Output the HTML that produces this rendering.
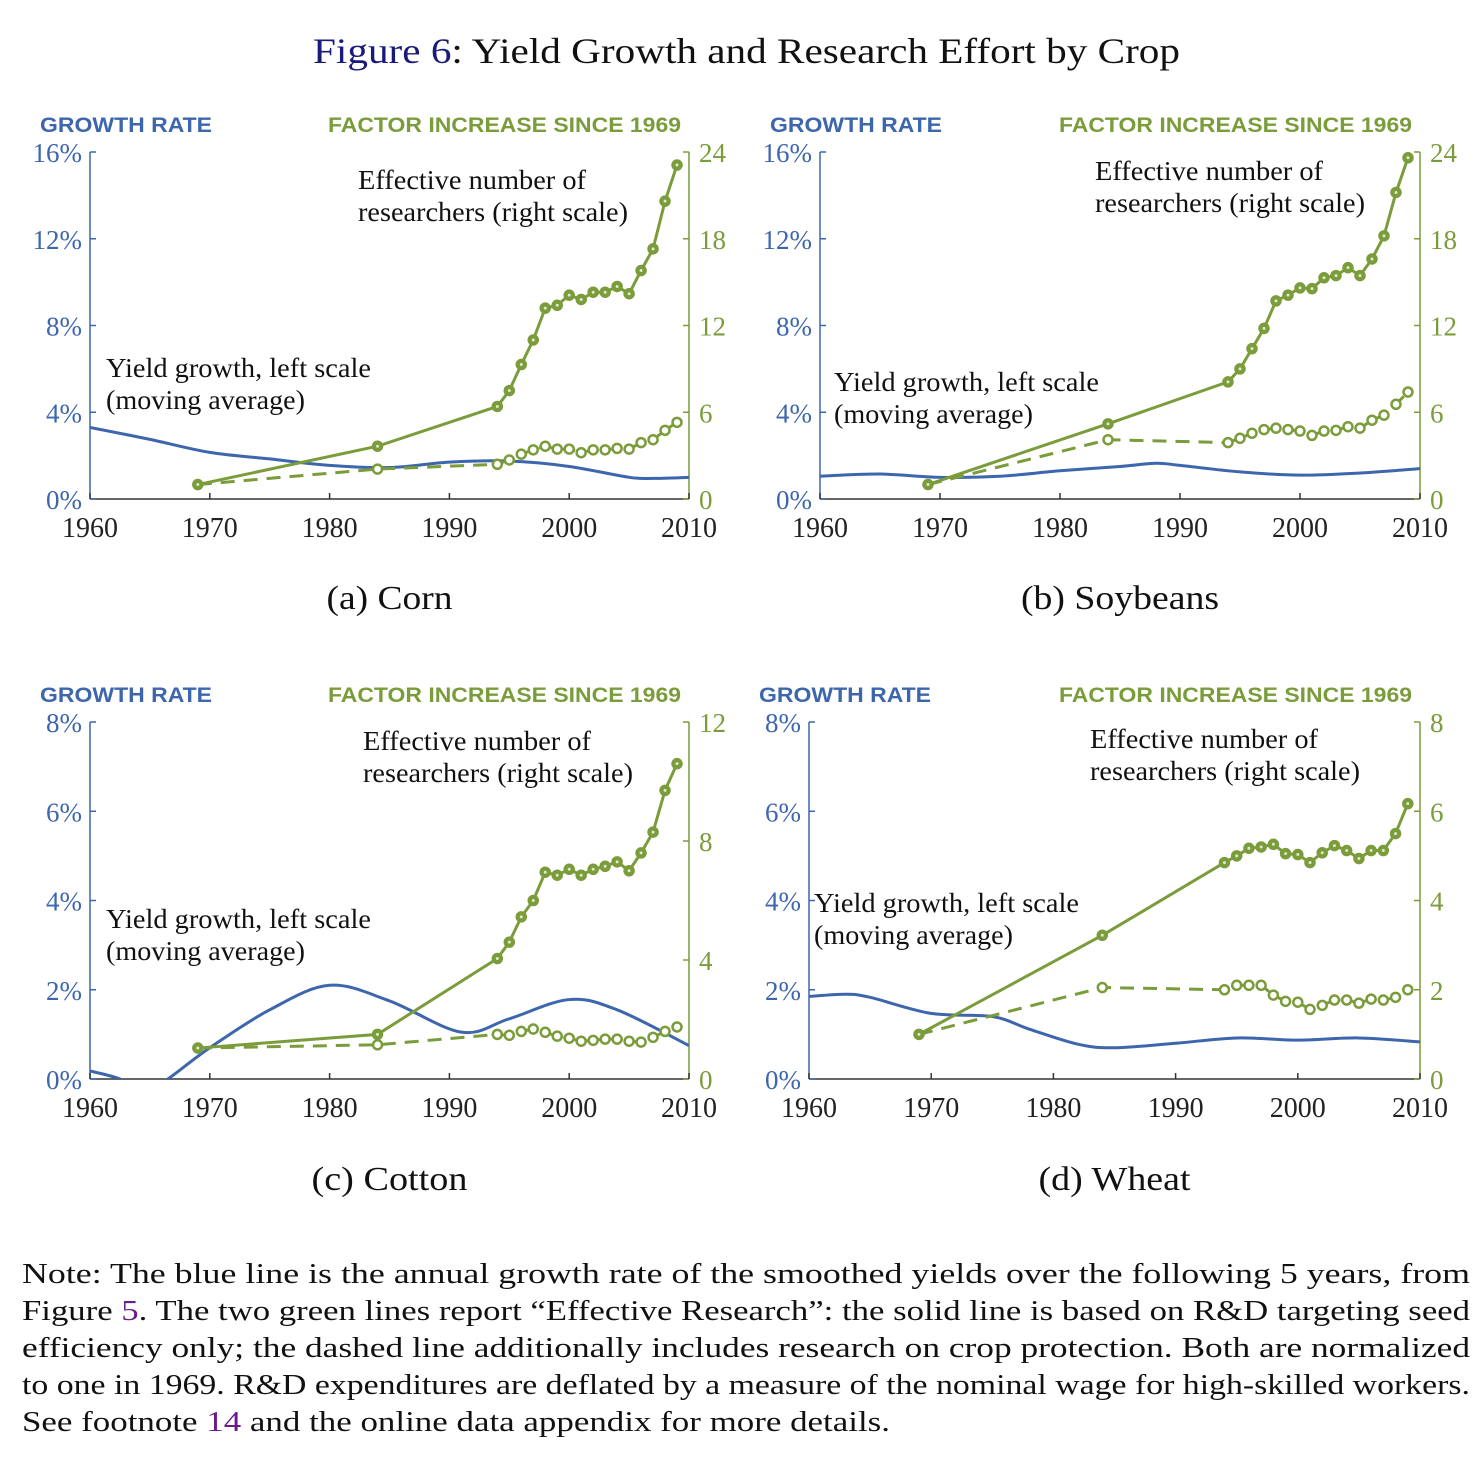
<!DOCTYPE html>
<html><head><meta charset="utf-8">
<style>
body{margin:0;background:#fff;}
svg{display:block;}
.ser{font-family:"Liberation Serif",serif;}
.sans{font-family:"Liberation Sans",sans-serif;font-weight:bold;}
</style></head>
<body>
<svg id="fig" width="1484" height="1466" xmlns="http://www.w3.org/2000/svg">
<text x="313" y="63" textLength="867" lengthAdjust="spacingAndGlyphs" class="ser" font-size="36" fill="#111"><tspan fill="#1a1a7a">Figure 6</tspan>: Yield Growth and Research Effort by Crop</text>
<g class="ser" font-size="29" fill="#111">
<text x="22" y="1283" textLength="1448" lengthAdjust="spacingAndGlyphs">Note: The blue line is the annual growth rate of the smoothed yields over the following 5 years, from</text>
<text x="22" y="1320" textLength="1448" lengthAdjust="spacingAndGlyphs">Figure <tspan fill="#6a1a8a">5</tspan>. The two green lines report “Effective Research”: the solid line is based on R&amp;D targeting seed</text>
<text x="22" y="1357" textLength="1448" lengthAdjust="spacingAndGlyphs">efficiency only; the dashed line additionally includes research on crop protection. Both are normalized</text>
<text x="22" y="1394" textLength="1448" lengthAdjust="spacingAndGlyphs">to one in 1969. R&amp;D expenditures are deflated by a measure of the nominal wage for high-skilled workers.</text>
<text x="22" y="1431" textLength="868" lengthAdjust="spacingAndGlyphs">See footnote <tspan fill="#6a1a8a">14</tspan> and the online data appendix for more details.</text>
</g>
</svg>
<script>
const researchYears=[1969,1984,1994,1995,1996,1997,1998,1999,2000,2001,2002,2003,2004,2005,2006,2007,2008,2009];
const cornSolid=[1,3.65,6.4,7.5,9.3,11.0,13.2,13.4,14.1,13.8,14.3,14.3,14.7,14.2,15.8,17.3,20.6,23.1];
const cornDashed=[1,2.07,2.4,2.7,3.1,3.4,3.65,3.45,3.45,3.2,3.4,3.4,3.5,3.45,3.9,4.1,4.75,5.3];
const cornGrowthYears=[1960,1965,1970,1975,1980,1985,1990,1995,2000,2005,2007,2010];
const cornGrowth=[3.3,2.75,2.15,1.85,1.55,1.45,1.7,1.75,1.5,1.0,0.95,1.0];
const soySolid=[1,5.2,8.1,9.0,10.4,11.8,13.7,14.1,14.6,14.55,15.3,15.45,16.0,15.45,16.6,18.2,21.2,23.6];
const soyDashed=[1,4.1,3.9,4.2,4.55,4.8,4.9,4.8,4.7,4.4,4.7,4.75,5.0,4.9,5.45,5.8,6.55,7.4];
const soyGrowthYears=[1960,1965,1970,1975,1980,1985,1988,1990,1995,2000,2005,2010];
const soyGrowth=[1.05,1.15,1.0,1.05,1.3,1.5,1.65,1.55,1.25,1.1,1.2,1.4];
const cottonSolid=[1.04,1.5,4.05,4.6,5.45,6.0,6.95,6.85,7.05,6.85,7.05,7.15,7.3,7.0,7.6,8.3,9.7,10.6];
const cottonDashed=[1.04,1.15,1.5,1.47,1.6,1.68,1.57,1.44,1.37,1.27,1.3,1.34,1.34,1.27,1.24,1.4,1.6,1.75];
const cottonGrowthYears=[1960,1962.5,1964.5,1966.5,1970,1975,1980,1985,1991,1995,2000,2004,2010];
const cottonGrowth=[0.18,0,-0.3,0,0.7,1.55,2.1,1.75,1.05,1.35,1.78,1.55,0.75];
const wheatSolid=[1,3.22,4.85,5.0,5.17,5.2,5.26,5.05,5.03,4.85,5.07,5.23,5.12,4.94,5.12,5.12,5.5,6.17];
const wheatDashed=[1,2.05,2.0,2.1,2.1,2.1,1.88,1.74,1.72,1.56,1.65,1.77,1.77,1.7,1.79,1.77,1.83,2.0];
const wheatGrowthYears=[1960,1963,1965,1970,1975,1978,1982,1985,1990,1995,2000,2005,2010];
const wheatGrowth=[1.85,1.9,1.83,1.47,1.4,1.12,0.78,0.7,0.8,0.92,0.87,0.92,0.83];
const xTicks=[1960,1970,1980,1990,2000,2010];

const NS='http://www.w3.org/2000/svg';
const BLUE='#3d66ad',GREEN='#7a9c3a';
const svg=document.getElementById('fig');
function mk(tag,attrs,parent){const e=document.createElementNS(NS,tag);for(const k in attrs)e.setAttribute(k,attrs[k]);(parent||svg).appendChild(e);return e;}
function smooth(pts){let d='M'+pts[0][0]+','+pts[0][1];for(let i=0;i<pts.length-1;i++){const p0=pts[Math.max(0,i-1)],p1=pts[i],p2=pts[i+1],p3=pts[Math.min(pts.length-1,i+2)];const c1=[p1[0]+(p2[0]-p0[0])/6,p1[1]+(p2[1]-p0[1])/6],c2=[p2[0]-(p3[0]-p1[0])/6,p2[1]-(p3[1]-p1[1])/6];d+=' C'+c1+' '+c2+' '+p2;}return d;}
function stretched(g,x,y,len,txt,size){const t=mk('text',{x:x,y:y,class:'ser','font-size':size,fill:'#111',textLength:len,lengthAdjust:'spacingAndGlyphs'},g);t.textContent=txt;return t;}

function panel(id,L,R,T,B,lmax,lstep,rmax,rstep,gy,gv,solid,dashed,cap,capY,capW,ylx,yly,enx,eny){
  const g=mk('g',{});
  
  
  const xs=y=>L+(y-1960)/50*(R-L), yl_=v=>B-v/lmax*(B-T), yr=v=>B-v/rmax*(B-T);
  const cp=mk('clipPath',{id:'c'+id},g);mk('rect',{x:L,y:T,width:R-L,height:B-T},cp);
  let t=mk('text',{x:L-50,y:T-20,class:'sans','font-size':21,fill:BLUE,textLength:172,lengthAdjust:'spacingAndGlyphs'},g);t.textContent='GROWTH RATE';
  
  t=mk('text',{x:R-361,y:T-20,class:'sans','font-size':21,fill:GREEN,textLength:353,lengthAdjust:'spacingAndGlyphs'},g);t.textContent='FACTOR INCREASE SINCE 1969';
  
  let a=mk('line',{x1:L,y1:T,x2:L,y2:B,stroke:BLUE,'stroke-width':1.5},g);
  
  a=mk('line',{x1:R,y1:T,x2:R,y2:B,stroke:GREEN,'stroke-width':1.5},g);
  
  a=mk('line',{x1:L,y1:B,x2:R,y2:B,stroke:'#333','stroke-width':1.5},g);
  
  for(let v=0;v<=lmax+1e-9;v+=lstep){const y=yl_(v);mk('line',{x1:L,y1:y,x2:L+6,y2:y,stroke:BLUE,'stroke-width':1.5},g);
    const tx=mk('text',{x:L-8,y:y+10,'text-anchor':'end',class:'ser','font-size':27,fill:BLUE},g);tx.textContent=v+'%';
    }
  for(let v=0;v<=rmax+1e-9;v+=rstep){const y=yr(v);mk('line',{x1:R,y1:y,x2:R-6,y2:y,stroke:GREEN,'stroke-width':1.5},g);
    const tx=mk('text',{x:R+10,y:y+10,class:'ser','font-size':27,fill:GREEN},g);tx.textContent=v;
    }
  xTicks.forEach(v=>{const x=xs(v);mk('line',{x1:x,y1:B,x2:x,y2:B-6,stroke:'#333','stroke-width':1.5},g);
    const tx=mk('text',{x:x,y:B+38,'text-anchor':'middle',class:'ser','font-size':28,fill:'#222'},g);tx.textContent=v;
    });
  const bp=mk('path',{d:smooth(gy.map((y,i)=>[xs(y),yl_(gv[i])])),fill:'none',stroke:BLUE,'stroke-width':3,'clip-path':'url(#c'+id+')'},g);
  
  const dpts=researchYears.map((y,i)=>[xs(y),yr(dashed[i])]);
  const dl=mk('polyline',{points:dpts.join(' '),fill:'none',stroke:GREEN,'stroke-width':3,'stroke-dasharray':'14 9'},g);
  
  dpts.forEach((p,i)=>{if(i===0)return;const c=mk('circle',{cx:p[0],cy:p[1],r:4.5,fill:'#fff',stroke:GREEN,'stroke-width':2.5},g);
    });
  const spts=researchYears.map((y,i)=>[xs(y),yr(solid[i])]);
  const sl=mk('polyline',{points:spts.join(' '),fill:'none',stroke:GREEN,'stroke-width':3},g);
  
  spts.forEach(p=>{const c=mk('circle',{cx:p[0],cy:p[1],r:5,fill:GREEN,stroke:GREEN,'stroke-width':1.5},g);
    
    mk('circle',{cx:p[0],cy:p[1],r:1.5,fill:'#dfe8c8'},g);});
  let an=stretched(g,ylx,yly,265,'Yield growth, left scale',27);
  
  an=stretched(g,ylx,yly+32,199,'(moving average)',27);
  
  an=stretched(g,enx,eny,228,'Effective number of',27);
  
  an=stretched(g,enx,eny+32,270,'researchers (right scale)',27);
  
  const c=mk('text',{x:(L+R)/2-capW/2,y:capY,class:'ser','font-size':34,fill:'#111',textLength:capW,lengthAdjust:'spacingAndGlyphs'},g);
  c.textContent=cap;
}
panel('corn',90,689,152,499,16,4,24,6,cornGrowthYears,cornGrowth,cornSolid,cornDashed,'(a) Corn',609,126,106,377,358,189);
panel('soybeans',820,1420,152,499,16,4,24,6,soyGrowthYears,soyGrowth,soySolid,soyDashed,'(b) Soybeans',609,198,834,391,1095,180);
panel('cotton',90,689,722,1079,8,2,12,4,cottonGrowthYears,cottonGrowth,cottonSolid,cottonDashed,'(c) Cotton',1190,156,106,928,363,750);
panel('wheat',809,1420,722,1079,8,2,8,2,wheatGrowthYears,wheatGrowth,wheatSolid,wheatDashed,'(d) Wheat',1190,152,814,912,1090,748);
</script>
</body></html>
